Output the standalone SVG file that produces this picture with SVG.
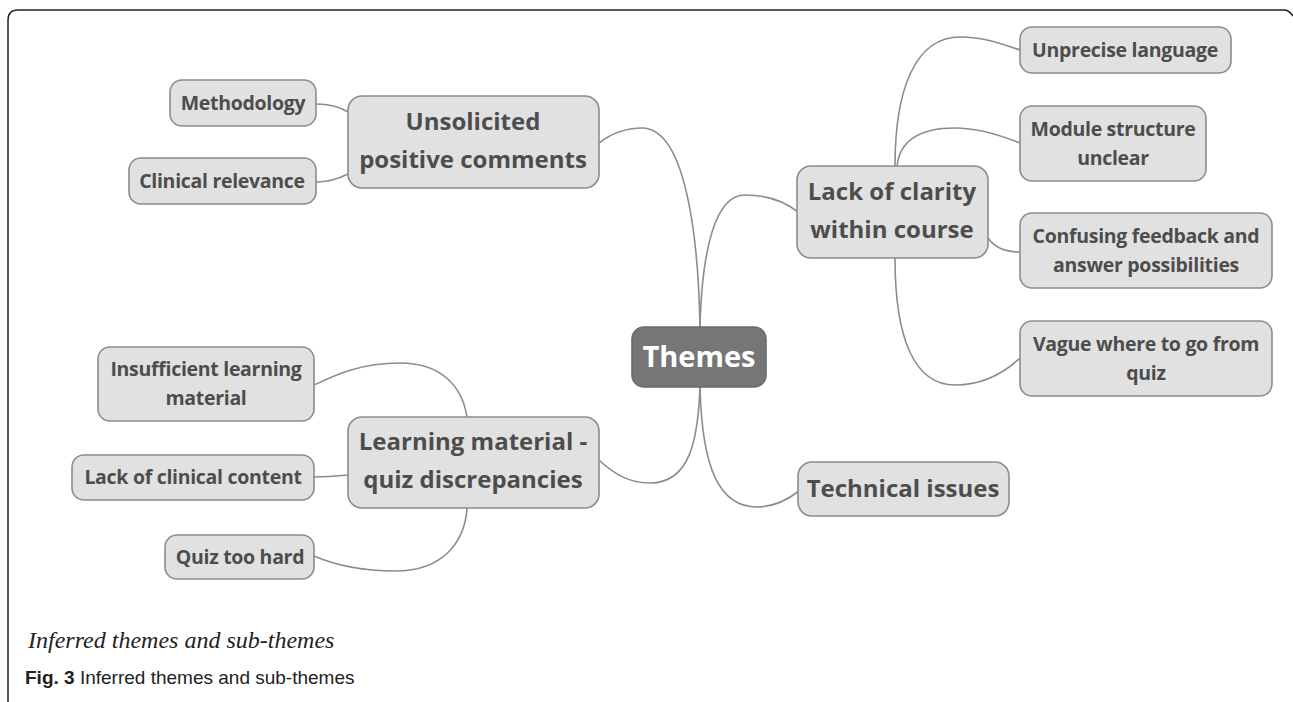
<svg xmlns="http://www.w3.org/2000/svg" width="1293" height="702" viewBox="0 0 1293 702">
<style>
.node rect{fill:#e1e1e1;stroke:#8c8c8c;stroke-width:1.6}
.node text{font-family:"Open Sans","Noto Sans",sans-serif;font-weight:bold;fill:#4d4d4d;text-anchor:middle}
.sm{font-size:19.5px;letter-spacing:-0.3px}
.lg{font-size:24px}
#conn path{fill:none;stroke:#8c8c8c;stroke-width:1.6}
</style>
<rect width="1293" height="702" fill="#fff"/>
<path d="M8,702 V20 Q8,10 18,10 H1284 Q1289,10 1293,16" fill="none" stroke="#222" stroke-width="1.5"/>
<g id="conn">
<path d="M700,327 C698,220 682,128 642,128 C622,128 608,136 599,143"/>
<path d="M700,327 C702,250 715,195 745,195 C770,195 788,204 798,212"/>
<path d="M895,166 C895,90 915,37 960,37 C985,37 1005,45 1020,50"/>
<path d="M897,166 C900,140 920,128 955,128 C980,128 1005,137 1020,143"/>
<path d="M988,238 C995,248 1005,252 1020,252"/>
<path d="M895,258 C895,340 915,385 955,385 C985,385 1005,372 1020,358"/>
<path d="M700,387 C702,470 720,507 757,507 C775,507 790,498 799,491"/>
<path d="M599,460 C615,475 630,483 650,483 C690,483 698,440 700,387"/>
<path d="M316,104 C330,104 340,107 348,112"/>
<path d="M316,182 C330,182 340,178 348,174"/>
<path d="M314,385 C335,375 360,363 400,363 C440,363 462,385 467,417"/>
<path d="M314,477 C330,477 338,476 348,475"/>
<path d="M314,556 C335,565 360,571 395,571 C445,571 465,540 467,508"/>
</g>
<g id="themes"><rect x="632" y="327" width="134" height="60" rx="12" fill="#767676" stroke="#6a6a6a" stroke-width="1.6"/><text x="699" y="367" font-family="Open Sans, Noto Sans, sans-serif" font-weight="bold" font-size="29" fill="#fff" text-anchor="middle">Themes</text></g>
<g id="unsolicited" class="node"><rect x="348" y="96" width="251" height="92" rx="14"/><text class="lg" x="473" y="130">Unsolicited</text><text class="lg" x="473" y="168">positive comments</text></g>
<g id="methodology" class="node"><rect x="170" y="80" width="146" height="46" rx="12"/><text class="sm" x="243" y="110">Methodology</text></g>
<g id="clinical-relevance" class="node"><rect x="129" y="158" width="187" height="46" rx="12"/><text class="sm" x="222" y="188">Clinical relevance</text></g>
<g id="lack-clarity" class="node"><rect x="797" y="166" width="191" height="92" rx="14"/><text class="lg" x="892" y="200">Lack of clarity</text><text class="lg" x="892" y="238">within course</text></g>
<g id="unprecise" class="node"><rect x="1020" y="27" width="211" height="46" rx="12"/><text class="sm" x="1125" y="57">Unprecise language</text></g>
<g id="module" class="node"><rect x="1020" y="106" width="186" height="75" rx="12"/><text class="sm" x="1113" y="136">Module structure</text><text class="sm" x="1113" y="165">unclear</text></g>
<g id="confusing" class="node"><rect x="1020" y="213" width="252" height="75" rx="12"/><text class="sm" x="1146" y="243">Confusing feedback and</text><text class="sm" x="1146" y="272">answer possibilities</text></g>
<g id="vague" class="node"><rect x="1020" y="321" width="252" height="75" rx="12"/><text class="sm" x="1146" y="351">Vague where to go from</text><text class="sm" x="1146" y="380">quiz</text></g>
<g id="learning" class="node"><rect x="348" y="417" width="251" height="91" rx="14"/><text class="lg" x="473" y="450">Learning material -</text><text class="lg" x="473" y="488">quiz discrepancies</text></g>
<g id="insufficient" class="node"><rect x="98" y="347" width="216" height="74" rx="12"/><text class="sm" x="206" y="376">Insufficient learning</text><text class="sm" x="206" y="405">material</text></g>
<g id="lack-clinical" class="node"><rect x="72" y="455" width="242" height="45" rx="12"/><text class="sm" x="193" y="484">Lack of clinical content</text></g>
<g id="quiz-hard" class="node"><rect x="165" y="535" width="149" height="44" rx="12"/><text class="sm" x="240" y="564">Quiz too hard</text></g>
<g id="technical" class="node"><rect x="798" y="462" width="211" height="54" rx="14"/><text class="lg" x="903" y="497">Technical issues</text></g>
<text x="28" y="648" font-family="Liberation Serif, serif" font-style="italic" font-size="24" fill="#222">Inferred themes and sub-themes</text>
<text x="25" y="684" font-family="Liberation Sans, sans-serif" font-size="19" fill="#222"><tspan font-weight="bold">Fig. 3</tspan> Inferred themes and sub-themes</text>
</svg>
